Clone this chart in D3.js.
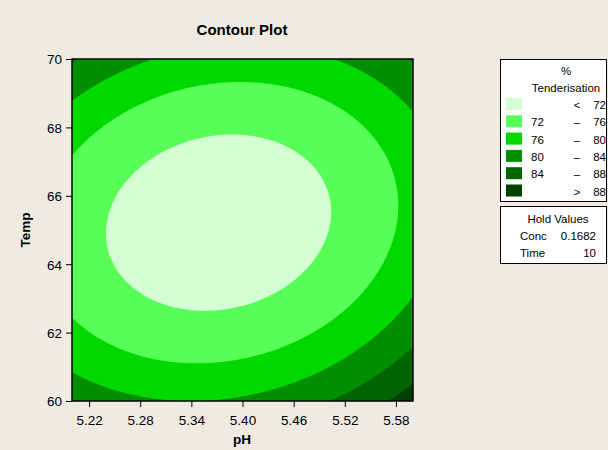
<!DOCTYPE html>
<html><head><meta charset="utf-8">
<script src="https://cdn.jsdelivr.net/npm/d3@7"></script>
<style>body{margin:0;background:#efebe2;}svg{display:block;}</style>
</head><body><svg id="c" width="608" height="450"></svg>
<script>
// Axes
const phTicks = [5.22, 5.28, 5.34, 5.40, 5.46, 5.52, 5.58];
const tempTicks = [60, 62, 64, 66, 68, 70];
const phDomain = [5.20, 5.60];
const tempDomain = [60, 70];

// Contour bands (% Tenderisation)
const levels = [72, 76, 80, 84, 88];
const bandColors = ["#d4ffd4", "#57ff57", "#00d800", "#008f00", "#006400", "#004000"];
const bandLow = ["", "72", "76", "80", "84", ""];
const bandSep = ["<", "–", "–", "–", "–", ">"];
const bandHigh = ["72", "76", "80", "84", "88", "88"];

// Hold values for the other factors
const holdNames = ["Conc", "Time"];
const holdValues = ["0.1682", "10"];

// Fitted response surface in coded units:
// u = (pH - 5.40) / 0.20, v = (Temp - 65) / 5
const coefTerms = ["Constant", "pH", "Temp", "pH*pH", "Temp*Temp", "pH*Temp"];
const coefValues = [69.565, 1.772, -1.112, 6.011, 9.868, -1.866];

const L = 72, R = 413, T = 59, B = 401;
const svg = d3.select("#c");
const x = d3.scaleLinear().domain(phDomain).range([L, R]);
const y = d3.scaleLinear().domain(tempDomain).range([B, T]);

const surface = (ph, t) => {
  const u = (ph - 5.4) / 0.2, v = (t - 65) / 5;
  const terms = [1, u, v, u * u, v * v, u * v];
  return d3.sum(terms, (tv, i) => tv * coefValues[i]);
};

// Evaluate the surface on a grid across the plotted region
const n = 300, m = 300;
const vals = new Array(n * m);
for (let j = 0; j < m; j++) for (let i = 0; i < n; i++) {
  const ph = phDomain[0] + i * (phDomain[1] - phDomain[0]) / (n - 1);
  const t = tempDomain[1] - j * (tempDomain[1] - tempDomain[0]) / (m - 1);
  vals[i + j * n] = surface(ph, t);
}
const gx = d3.scaleLinear().domain([0.5, n - 0.5]).range([L, R]);
const gy = d3.scaleLinear().domain([0.5, m - 0.5]).range([T, B]);
const contours = d3.contours().size([n, m]).thresholds(levels)(vals);
const path = d3.geoPath(d3.geoTransform({ point(a, b) { this.stream.point(gx(a), gy(b)); } }));

svg.append("defs").append("clipPath").attr("id", "plot")
  .append("rect").attr("x", L).attr("y", T).attr("width", R - L).attr("height", B - T);
const g = svg.append("g").attr("clip-path", "url(#plot)");
g.append("rect").attr("x", L).attr("y", T).attr("width", R - L).attr("height", B - T).attr("fill", bandColors[0]);
g.selectAll("path").data(contours).join("path").attr("d", path).attr("fill", (d, i) => bandColors[i + 1]);

svg.append("rect").attr("x", L).attr("y", T).attr("width", R - L).attr("height", B - T)
  .attr("fill", "none").attr("stroke", "#000").attr("stroke-width", 1.5);

const font = "'Liberation Sans', Arial, sans-serif";
const ax = svg.append("g").attr("transform", `translate(0,${B})`)
  .call(d3.axisBottom(x).tickValues(phTicks).tickFormat(d3.format(".2f")).tickSize(6).tickSizeOuter(0));
const ay = svg.append("g").attr("transform", `translate(${L},0)`)
  .call(d3.axisLeft(y).tickValues(tempTicks).tickFormat(d3.format("d")).tickSize(6).tickSizeOuter(0));
[ax, ay].forEach(a => {
  a.select(".domain").remove();
  a.selectAll("text").attr("font-family", font).attr("font-size", 13.5).attr("fill", "#000");
  a.selectAll("line").attr("stroke", "#000");
});
ax.selectAll("text").attr("dy", null).attr("y", 24);
ay.selectAll("text").attr("x", -10).attr("dy", "0.36em");

svg.append("text").attr("x", 242).attr("y", 35).attr("text-anchor", "middle")
  .attr("font-family", font).attr("font-weight", "bold").attr("font-size", 15).text("Contour Plot");
svg.append("text").attr("x", 242).attr("y", 444).attr("text-anchor", "middle")
  .attr("font-family", font).attr("font-weight", "bold").attr("font-size", 13.5).text("pH");
svg.append("text").attr("transform", "translate(30,230) rotate(-90)").attr("text-anchor", "middle")
  .attr("font-family", font).attr("font-weight", "bold").attr("font-size", 13.5).text("Temp");

// Legend
const lg = svg.append("g").attr("font-family", font).attr("font-size", 11.5).attr("fill", "#000");
lg.append("rect").attr("x", 500.5).attr("y", 59.5).attr("width", 106).attr("height", 142)
  .attr("fill", "#fff").attr("stroke", "#000");
lg.append("text").attr("x", 566).attr("y", 75).attr("text-anchor", "middle").text("%");
lg.append("text").attr("x", 566).attr("y", 92).attr("text-anchor", "middle").text("Tenderisation");
bandColors.forEach((c, i) => {
  const yy = 98 + i * 17.3;
  lg.append("rect").attr("x", 506).attr("y", yy).attr("width", 16).attr("height", 12).attr("fill", c);
  lg.append("text").attr("x", 531).attr("y", yy + 11).text(bandLow[i]);
  lg.append("text").attr("x", 577).attr("y", yy + 11).attr("text-anchor", "middle").text(bandSep[i]);
  lg.append("text").attr("x", 606).attr("y", yy + 11).attr("text-anchor", "end").text(bandHigh[i]);
});

// Hold values box
lg.append("rect").attr("x", 500.5).attr("y", 206.5).attr("width", 106).attr("height", 57)
  .attr("fill", "#fff").attr("stroke", "#000");
lg.append("text").attr("x", 558).attr("y", 223).attr("text-anchor", "middle").text("Hold Values");
holdNames.forEach((h, i) => {
  lg.append("text").attr("x", 520).attr("y", 240 + i * 16.7).text(h);
  lg.append("text").attr("x", 596).attr("y", 240 + i * 16.7).attr("text-anchor", "end").text(holdValues[i]);
});
</script></body></html>
